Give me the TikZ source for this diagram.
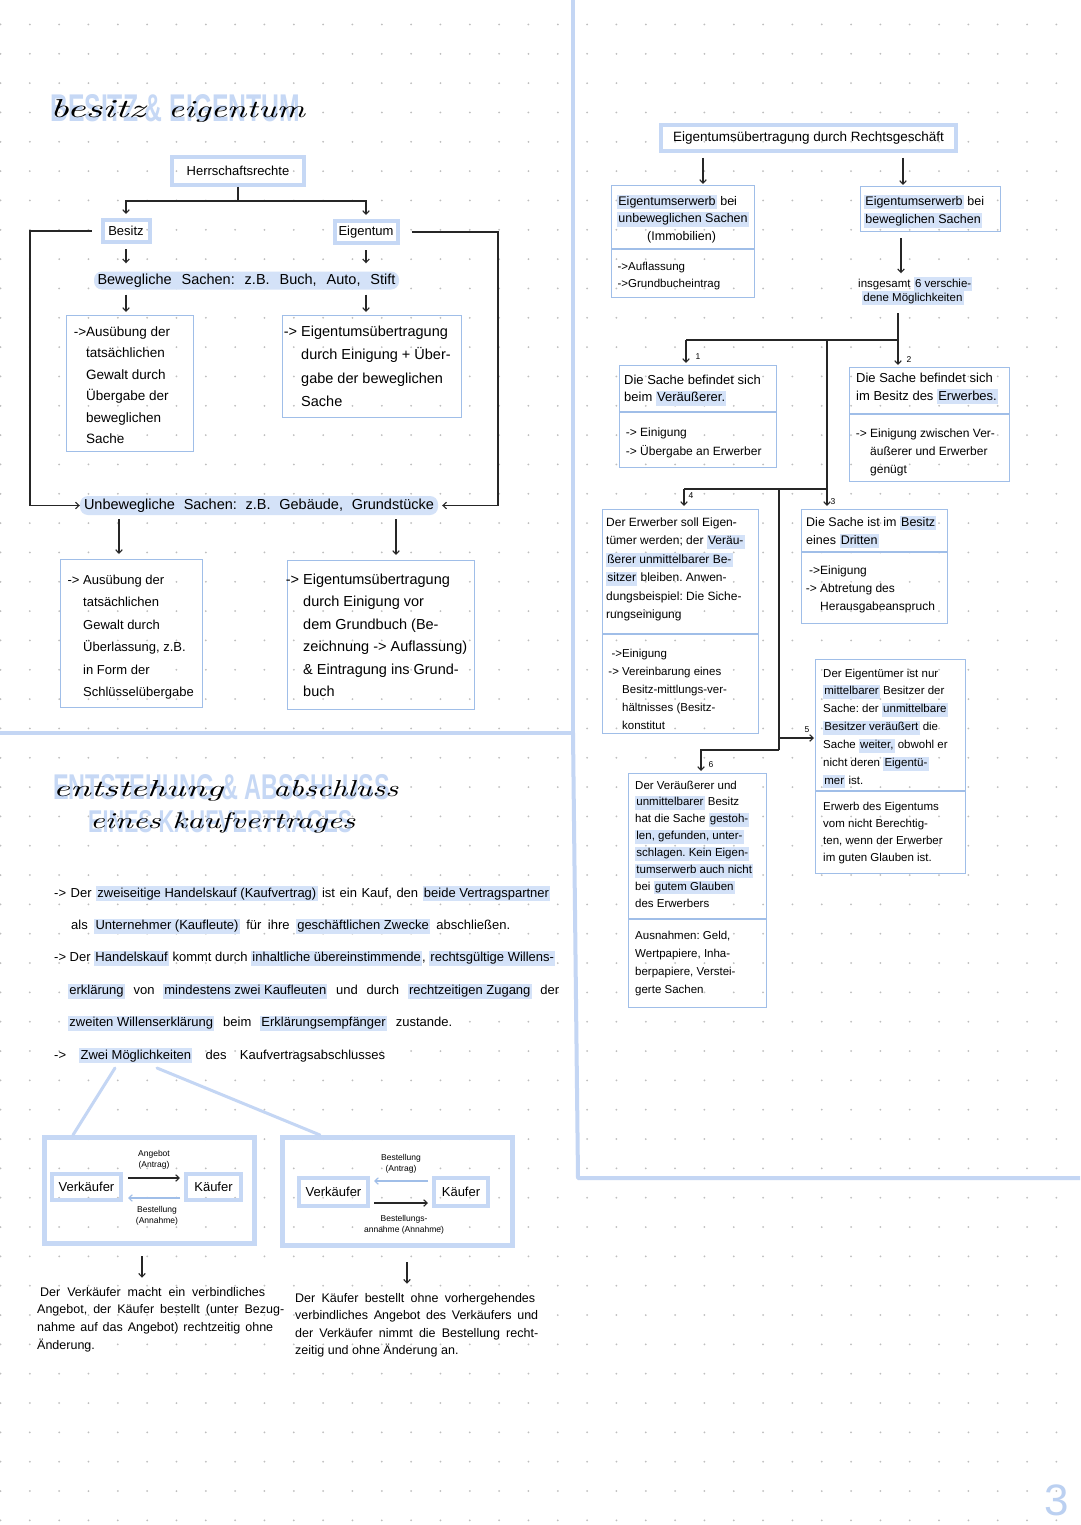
\documentclass[tikz,border=0pt]{standalone}
\usepackage{graphicx}
\usepackage{fontspec}
\setsansfont{Liberation Sans}
\renewcommand{\familydefault}{\sfdefault}
\usetikzlibrary{arrows.meta}
\definecolor{boxc}{RGB}{160,190,232}
\definecolor{framec}{RGB}{198,216,245}
\definecolor{hl}{RGB}{212,226,248}
\definecolor{linec}{RGB}{196,214,244}
\definecolor{dotc}{RGB}{190,190,190}
\newcommand{\hlt}[1]{{\setlength{\fboxsep}{1.2pt}\colorbox{hl}{\rule[-0.25em]{0pt}{0.95em}#1}}}
\newcommand{\fsz}[2]{\fontsize{#1}{#2}\selectfont}
\newcommand{\arw}{\leavevmode\llap{->\ }}
\newcommand{\arwt}{\leavevmode\llap{->}}
\frenchspacing
\begin{document}
\begin{tikzpicture}[x=1pt,y=-1pt,
 conn/.style={line width=1.1pt, draw=black!85},
 arr/.style={conn, -{Straight Barb[length=3.5pt,width=6.5pt]}},
 barr/.style={line width=1.1pt, draw=boxc, -{Straight Barb[length=3.5pt,width=6.5pt]}},
 bbox/.style={draw=boxc, line width=1.3pt, inner sep=0pt, anchor=north west},
 divl/.style={draw=boxc, line width=1.3pt},
 frm/.style={draw=framec, line width=4pt, inner sep=0pt},
 hlbox/.style={fill=hl, rounded corners=8pt, inner sep=0pt},
 tx/.style={inner sep=0pt, anchor=base west},
 bigl/.style={draw=linec, line width=4pt},
 stroke/.style={draw=linec, line width=3pt, line cap=round},
 num/.style={inner sep=0pt, font=\fsz{8.5}{8.5}},
 lab/.style={inner sep=0pt, align=center, font=\fsz{8.5}{10.5}},
]
\useasboundingbox (0,0) rectangle (1080,1525);
\fill[white] (0,0) rectangle (1080,1525);
\foreach \i in {0,...,36}{\foreach \j in {0,...,51}{\fill[dotc] ({0.5+29.33*\i},{24.5+29.33*\j}) circle[radius=1pt];}}

% page dividers
\draw[bigl] (573,0) -- (573,733);
\draw[bigl] (0,733) -- (573,733);
\draw[bigl, line join=round] (573,733) -- (578,1178) -- (1080,1178);

% ---------- title 1
\node[tx, text=framec] (t1b) at (50,122) {\resizebox{250pt}{27pt}{\bfseries BESITZ \& EIGENTUM}};
\node[tx] (t1s1) at (50,118) {\resizebox{95pt}{18pt}{\rmfamily\itshape besitz}};
\node[tx] (t1s2) at (168,118) {\resizebox{137pt}{16pt}{\rmfamily\itshape eigentum}};

% ---------- section A
\node[frm, minimum width=132pt, minimum height=28pt, font=\fsz{13}{13}] (herr) at (238,171) {Herrschaftsrechte};
\node[frm, minimum width=47pt, minimum height=22pt, font=\fsz{13}{13}] (besitz) at (126,231) {Besitz};
\node[frm, minimum width=63pt, minimum height=22pt, font=\fsz{13}{13}] (eigen) at (366,232) {Eigentum};
\node[hlbox, minimum width=305pt, minimum height=18pt, font=\fsz{14.5}{14.5}] (bew) at (246.5,280.5) {\makebox[298pt][s]{Bewegliche Sachen: z.B. Buch, Auto, Stift}};
\node[hlbox, minimum width=358pt, minimum height=19pt, font=\fsz{14.5}{14.5}] (unbew) at (259,505.5) {\makebox[350pt][s]{Unbewegliche Sachen: z.B. Gebäude, Grundstücke}};

\draw[conn] (herr.south) -- (herr.south |- 0,201) coordinate (hj);
\draw[arr, shorten >=4pt] (hj) -| (besitz.north);
\draw[arr, shorten >=4pt] (hj) -| (eigen.north);
\draw[arr, shorten <=9pt] (besitz.west) -- (30,231) |- (unbew.west);
\draw[arr, shorten <=12pt, shorten >=4pt] (eigen.east) -- (498,232) |- (unbew.east);
\draw[arr, shorten <=5pt, shorten >=8pt] (besitz.south) -- (besitz.south |- bew.north);
\draw[arr, shorten <=5pt, shorten >=8pt] (eigen.south) -- (eigen.south |- bew.north);

\node[bbox, minimum width=127pt, minimum height=136pt] (a1) at (66,315) {};
\node[bbox, minimum width=179pt, minimum height=102pt] (a2) at (282,315) {};
\node[bbox, minimum width=142pt, minimum height=148pt] (a3) at (60,559) {};
\node[bbox, minimum width=187pt, minimum height=149pt] (a4) at (286.5,560) {};

\draw[arr, shorten <=5pt, shorten >=3pt] (bew.south -| besitz.south) -- (a1.north -| besitz.south);
\draw[arr, shorten <=5pt, shorten >=3pt] (bew.south -| eigen.south) -- (a2.north -| eigen.south);
\draw[arr, shorten <=4pt, shorten >=5pt] (unbew.south -| 119,0) -- (a3.north -| 119,0);
\draw[arr, shorten <=4pt, shorten >=5pt] (unbew.south -| 396,0) -- (a4.north -| 396,0);

\node[tx] (a1t) at (86,336) {\fsz{13.5}{21.5}\parbox[t]{120pt}{\arwt Ausübung der\\tatsächlichen\\Gewalt durch\\Übergabe der\\beweglichen\\Sache}};
\node[tx] (a2t) at (301,336) {\fsz{14.5}{23.5}\parbox[t]{170pt}{\arw Eigentumsübertragung\\durch Einigung + Über-\\gabe der beweglichen\\Sache}};
\node[tx] (a3t) at (83,584) {\fsz{13}{22.5}\parbox[t]{130pt}{\arw Ausübung der\\tatsächlichen\\Gewalt durch\\Überlassung, z.B.\\in Form der\\Schlüsselübergabe}};
\node[tx] (a4t) at (303,584) {\fsz{14.5}{22.5}\parbox[t]{175pt}{\arw Eigentumsübertragung\\durch Einigung vor\\dem Grundbuch (Be-\\zeichnung -> Auflassung)\\\& Eintragung ins Grund-\\buch}};

% ---------- section B (right)
\node[frm, minimum width=295pt, minimum height=26pt, font=\fsz{13.5}{13.5}] (rtitle) at (808.5,138) {Eigentumsübertragung durch Rechtsgeschäft};
\node[bbox, minimum width=143pt, minimum height=112pt] (r1) at (611,185) {};
\node[bbox, minimum width=140pt, minimum height=45pt] (r2) at (860,186) {};
\draw[divl] (r1.west |- 0,249) -- (r1.east |- 0,249);
\draw[arr, shorten <=5pt, shorten >=1pt] (rtitle.south -| 703,0) -- (r1.north -| 703,0);
\draw[arr, shorten <=5pt, shorten >=1pt] (rtitle.south -| 903,0) -- (r2.north -| 903,0);

\node[tx] (r1t) at (617,205) {\fsz{12.5}{17.5}\parbox[t]{140pt}{\hlt{Eigentumserwerb} bei\\\hlt{unbeweglichen Sachen}\\\hspace*{30pt}(Immobilien)}};
\node[tx] (r1b) at (628,270) {\fsz{11.5}{17.5}\parbox[t]{120pt}{\arwt Auflassung\\\arwt Grundbucheintrag}};
\node[tx] (r2t) at (864,205) {\fsz{12.5}{18.5}\parbox[t]{135pt}{\hlt{Eigentumserwerb} bei\\\hlt{beweglichen Sachen}}};
\node[tx] (insg) at (858,287) {\fsz{11.5}{14}\parbox[t]{130pt}{insgesamt \hlt{6 verschie-}\\\hspace*{4pt}\hlt{dene Möglichkeiten}}};
\draw[arr, shorten <=6pt, shorten >=4pt] (r2.south -| 901,0) -- (insg.north -| 901,0);

\node[bbox, minimum width=157pt, minimum height=102pt] (r3) at (619,365) {};
\node[bbox, minimum width=160pt, minimum height=114pt] (r4) at (849,367) {};
\node[bbox, minimum width=156pt, minimum height=224pt] (r5) at (602,509) {};
\node[bbox, minimum width=146pt, minimum height=114pt] (r6) at (801,509) {};
\node[bbox, minimum width=150pt, minimum height=214pt] (r7) at (815,659) {};
\node[bbox, minimum width=138pt, minimum height=234pt] (r8) at (628,773) {};
\draw[divl] (r3.west |- 0,412) -- (r3.east |- 0,412);
\draw[divl] (r4.west |- 0,414) -- (r4.east |- 0,414);
\draw[divl] (r5.west |- 0,634) -- (r5.east |- 0,634);
\draw[divl] (r6.west |- 0,552) -- (r6.east |- 0,552);
\draw[divl] (r7.west |- 0,791) -- (r7.east |- 0,791);
\draw[divl] (r8.west |- 0,919) -- (r8.east |- 0,919);

\coordinate (jA) at (898,340);
\draw[conn, shorten <=8pt] (insg.south -| 898,0) -- (jA);
\draw[conn] (686,340) -- (jA);
\draw[arr, shorten >=2pt] (686,340) -- (r3.north -| 686,0);
\draw[arr, shorten >=2pt] (jA) -- (r4.north -| jA);
\draw[conn] (827,340) -- (827,489);
\draw[conn] (684,489) -- (827,489);
\draw[arr, shorten >=3pt] (684,489) -- (r5.north -| 684,0);
\draw[arr, shorten >=3pt] (827,489) -- (r6.north -| 827,0);
\draw[conn] (779,489) -- (779,750);
\draw[arr, shorten >=1pt] (779,738) -- (r7.west |- 0,738);
\draw[arr, shorten >=2pt] (779,750) -| (r8.north -| 701,0);
\node[num] (n1) at (698,357) {1};
\node[num] (n2) at (909,360) {2};
\node[num] (n4) at (691,496) {4};
\node[num] (n3) at (833,502) {3};
\node[num] (n5) at (807,730) {5};
\node[num] (n6) at (711,765) {6};

\node[tx] (r3t) at (624,384) {\fsz{13}{17.5}\parbox[t]{150pt}{Die Sache befindet sich\\beim \hlt{Veräußerer.}}};
\node[tx] (r3b) at (640,436) {\fsz{12}{19}\parbox[t]{130pt}{\arw Einigung\\\arw Übergabe an Erwerber}};
\node[tx] (r4t) at (856,382) {\fsz{13}{18}\parbox[t]{150pt}{Die Sache befindet sich\\im Besitz des \hlt{Erwerbes.}}};
\node[tx] (r4b) at (870,437) {\fsz{12}{18}\parbox[t]{135pt}{\arw Einigung zwischen Ver-\\äußerer und Erwerber\\genügt}};
\node[tx] (r5t) at (606,526) {\fsz{12}{18.5}\parbox[t]{150pt}{Der Erwerber soll Eigen-\\tümer werden; der \hlt{Veräu-}\\\hlt{ßerer unmittelbarer Be-}\\\hlt{sitzer} bleiben. Anwen-\\dungsbeispiel: Die Siche-\\rungseinigung}};
\node[tx] (r5b) at (622,657) {\fsz{11.5}{18}\parbox[t]{135pt}{\arwt Einigung\\\arw Vereinbarung eines\\Besitz-mittlungs-ver-\\hältnisses (Besitz-\\konstitut}};
\node[tx] (r6t) at (806,526) {\fsz{12.5}{18}\parbox[t]{140pt}{Die Sache ist im \hlt{Besitz}\\eines \hlt{Dritten}}};
\node[tx] (r6b) at (820,574) {\fsz{12}{18}\parbox[t]{125pt}{\arwt Einigung\\\arw Abtretung des\\Herausgabeanspruch}};
\node[tx] (r7t) at (823,677) {\fsz{11.5}{17.9}\parbox[t]{145pt}{Der Eigentümer ist nur\\\hlt{mittelbarer} Besitzer der\\Sache: der \hlt{unmittelbare}\\\hlt{Besitzer veräußert} die\\Sache \hlt{weiter,} obwohl er\\nicht deren \hlt{Eigentü-}\\\hlt{mer} ist.}};
\node[tx] (r7b) at (823,810) {\fsz{11.5}{17.3}\parbox[t]{140pt}{Erwerb des Eigentums\\vom nicht Berechtig-\\ten, wenn der Erwerber\\im guten Glauben ist.}};
\node[tx] (r8t) at (635,789) {\fsz{11.5}{16.9}\parbox[t]{130pt}{Der Veräußerer und\\\hlt{unmittelbarer} Besitz\\hat die Sache \hlt{gestoh-}\\\hlt{len, gefunden, unter-}\\\hlt{schlagen. Kein Eigen-}\\\hlt{tumserwerb auch nicht}\\bei \hlt{gutem Glauben}\\des Erwerbers}};
\node[tx] (r8b) at (635,939) {\fsz{11.5}{18}\parbox[t]{130pt}{Ausnahmen: Geld,\\Wertpapiere, Inha-\\berpapiere, Verstei-\\gerte Sachen}};

% ---------- section C
\node[tx, text=framec] (t2b) at (53,799) {\resizebox{337pt}{25pt}{\bfseries ENTSTEHUNG \& ABSCHLUSS}};
\node[tx, text=framec] (t2c) at (88,832) {\resizebox{264pt}{22pt}{\bfseries EINES KAUFVERTRAGES}};
\node[tx] (t2s1) at (53,796) {\resizebox{170pt}{16pt}{\rmfamily\itshape entstehung}};
\node[tx] (t2s2) at (273,796) {\resizebox{125pt}{16pt}{\rmfamily\itshape abschluss}};
\node[tx] (t2s3) at (90,828) {\resizebox{265pt}{16pt}{\rmfamily\itshape eines kaufvertrages}};

\node[tx] (para) at (54,897) {\fsz{13}{32.4}\parbox[t]{520pt}{%
\makebox[496pt][s]{->\ Der \hlt{zweiseitige Handelskauf (Kaufvertrag)} ist ein Kauf, den \hlt{beide Vertragspartner}}\\
\hspace*{17pt}\makebox[439pt][s]{als \hlt{Unternehmer (Kaufleute)} für ihre \hlt{geschäftlichen Zwecke} abschließen.}\\
\makebox[501pt][s]{->\ Der \hlt{Handelskauf} kommt durch \hlt{inhaltliche übereinstimmende}, \hlt{rechtsgültige Willens-}}\\
\hspace*{14pt}\makebox[491pt][s]{\hlt{erklärung} von \hlt{mindestens zwei Kaufleuten} und durch \hlt{rechtzeitigen Zugang} der}\\
\hspace*{14pt}\makebox[384pt][s]{\hlt{zweiten Willenserklärung} beim \hlt{Erklärungsempfänger} zustande.}\\
\makebox[331pt][s]{->\ \hlt{Zwei Möglichkeiten} des Kaufvertragsabschlusses}}};

\node[frm, line width=5pt, minimum width=210pt, minimum height=106pt] (c1) at (149.5,1190.5) {};
\node[frm, line width=5pt, minimum width=230pt, minimum height=108pt] (c2) at (397.5,1191.5) {};
\draw[stroke] (115,1068) -- (c1.north -| 73,0);
\draw[stroke] (157,1068) -- (c2.north -| 320,0);

\node[frm, minimum width=69pt, minimum height=26pt, font=\fsz{13}{13}] (vk1) at (86.5,1187) {Verkäufer};
\node[frm, minimum width=55pt, minimum height=26pt, font=\fsz{13}{13}] (kf1) at (213.5,1187) {Käufer};
\draw[arr, shorten <=5pt, shorten >=4pt] ([yshift=9pt]vk1.east) -- ([yshift=9pt]kf1.west);
\draw[barr, shorten <=4pt, shorten >=5pt] ([yshift=-11pt]kf1.west) -- ([yshift=-11pt]vk1.east);
\node[lab] (l1a) at (154,1160) {Angebot\\(Antrag)};
\node[lab] (l1b) at (157,1216) {Bestellung\\(Annahme)};

\node[frm, minimum width=69pt, minimum height=28pt, font=\fsz{13}{13}] (vk2) at (333.5,1192) {Verkäufer};
\node[frm, minimum width=54pt, minimum height=28pt, font=\fsz{13}{13}] (kf2) at (461,1192) {Käufer};
\draw[barr, shorten <=4pt, shorten >=4pt] ([yshift=11pt]kf2.west) -- ([yshift=11pt]vk2.east);
\draw[arr, shorten <=4pt, shorten >=4pt] ([yshift=-11pt]vk2.east) -- ([yshift=-11pt]kf2.west);
\node[lab] (l2a) at (401,1164) {Bestellung\\(Antrag)};
\node[lab] (l2b) at (404,1225) {Bestellungs-\\annahme (Annahme)};

\node[tx] (ct1) at (37,1296) {\fsz{12.5}{17.8}\parbox[t]{260pt}{\hspace*{3pt}\makebox[225pt][s]{Der Verkäufer macht ein verbindliches}\\\makebox[247pt][s]{Angebot, der Käufer bestellt (unter Bezug-}\\\makebox[236pt][s]{nahme auf das Angebot) rechtzeitig ohne}\\Änderung.}};
\node[tx] (ct2) at (295,1302) {\fsz{12.5}{17.5}\parbox[t]{260pt}{\makebox[240pt][s]{Der Käufer bestellt ohne vorhergehendes}\\\makebox[243pt][s]{verbindliches Angebot des Verkäufers und}\\\makebox[243pt][s]{der Verkäufer nimmt die Bestellung recht-}\\zeitig und ohne Änderung an.}};
\draw[arr, shorten <=10pt, shorten >=9pt] (c1.south -| 142,0) -- (ct1.north -| 142,0);
\draw[arr, shorten <=14pt, shorten >=9pt] (c2.south -| 407,0) -- (ct2.north -| 407,0);

\node[text=framec!70!boxc, font=\fsz{44}{44}] (pg) at (1057,1500) {3};
\end{tikzpicture}
\end{document}
